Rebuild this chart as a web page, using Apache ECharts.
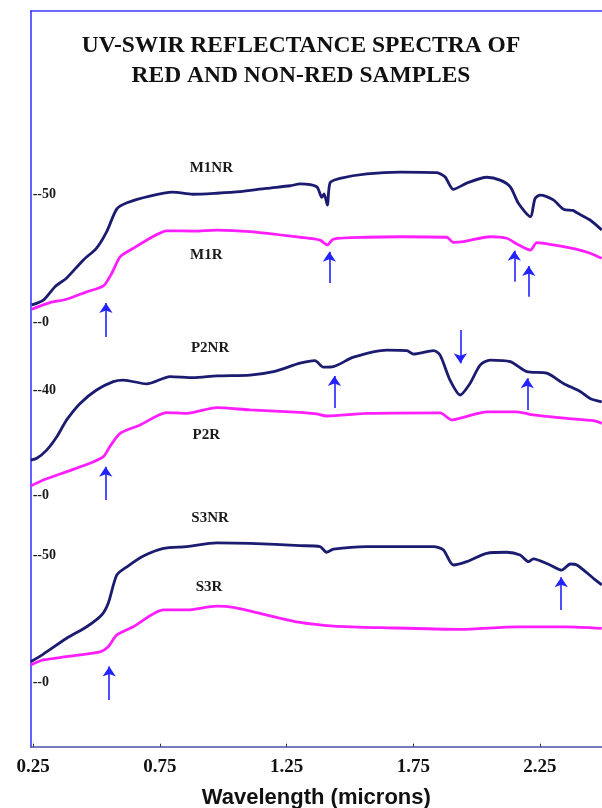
<!DOCTYPE html>
<html><head><meta charset="utf-8">
<script src="https://cdn.jsdelivr.net/npm/echarts@6/dist/echarts.min.js"></script>
<style>html,body{margin:0;padding:0;background:#fff}#c{width:602px;height:808px}</style>
</head><body><div id="c"></div>
<script>
// ---- data (wavelength in microns, reflectance %) ----
const xTicks = [0.25, 0.75, 1.25, 1.75, 2.25];
const M1NR = [[0.244,6.9],[0.29,8.8],[0.336,14.0],[0.382,17.4],[0.448,24.4],[0.50,29.0],[0.54,35.4],[0.58,44.2],[0.62,46.6],[0.71,49.2],[0.80,50.7],[0.88,49.9],[0.974,50.3],[1.066,50.9],[1.17,52.2],[1.264,53.2],[1.303,53.9],[1.369,52.8],[1.389,48.7],[1.398,50.0],[1.411,45.7],[1.422,54.4],[1.461,56.1],[1.567,57.8],[1.698,58.5],[1.843,58.3],[1.875,56.7],[1.908,51.8],[1.961,54.2],[2.04,56.5],[2.093,55.4],[2.133,52.8],[2.165,46.4],[2.212,41.2],[2.231,48.3],[2.251,49.6],[2.303,47.7],[2.343,44.1],[2.38,43.6],[2.396,42.7],[2.448,39.9],[2.494,36.0]];
const M1R = [[0.244,5.2],[0.316,7.8],[0.382,9.1],[0.461,12.0],[0.527,14.3],[0.56,19.2],[0.593,25.6],[0.645,28.9],[0.711,32.8],[0.777,35.7],[0.882,35.6],[0.974,36.0],[1.106,35.4],[1.303,33.2],[1.382,32.1],[1.411,30.2],[1.435,32.5],[1.567,33.2],[1.698,33.4],[1.882,33.2],[1.908,31.2],[1.948,31.5],[2.053,33.4],[2.119,32.8],[2.159,30.6],[2.212,28.2],[2.238,31.1],[2.303,30.2],[2.396,28.5],[2.448,27.0],[2.494,25.0]];
const P2NR = [[0.24,13.3],[0.264,14.0],[0.303,17.1],[0.343,22.2],[0.382,28.6],[0.435,34.9],[0.50,40.0],[0.566,43.2],[0.606,43.8],[0.698,42.3],[0.79,45.1],[0.882,44.7],[0.974,45.4],[1.106,45.7],[1.198,47.0],[1.303,50.2],[1.362,51.2],[1.395,48.7],[1.435,48.9],[1.514,52.5],[1.646,55.2],[1.725,55.0],[1.751,53.7],[1.83,55.0],[1.856,53.3],[1.895,43.8],[1.935,38.1],[1.974,42.5],[2.014,49.5],[2.053,51.4],[2.133,50.8],[2.198,47.0],[2.277,46.4],[2.343,42.5],[2.409,39.4],[2.448,36.8],[2.494,35.5]];
const P2R = [[0.24,3.4],[0.29,5.7],[0.382,8.9],[0.474,12.1],[0.527,14.6],[0.552,18.4],[0.593,23.5],[0.672,26.7],[0.777,31.4],[0.856,31.1],[0.974,33.3],[1.106,32.4],[1.303,31.5],[1.369,30.9],[1.408,30.1],[1.567,31.1],[1.856,31.3],[1.902,28.6],[1.948,29.6],[2.04,31.7],[2.159,31.7],[2.224,30.5],[2.356,29.2],[2.461,28.3],[2.494,27.3]];
const S3NR = [[0.24,8.2],[0.29,11.2],[0.382,17.4],[0.461,21.9],[0.52,26.5],[0.546,31.1],[0.58,42.2],[0.62,45.4],[0.685,49.6],[0.764,52.6],[0.856,53.3],[0.974,54.8],[1.106,54.6],[1.303,53.7],[1.382,53.3],[1.408,51.1],[1.435,52.3],[1.567,53.3],[1.83,53.3],[1.869,52.0],[1.908,46.1],[1.961,47.4],[2.04,50.7],[2.119,51.1],[2.172,50.0],[2.205,47.4],[2.224,48.5],[2.29,46.1],[2.336,44.1],[2.37,46.5],[2.396,46.1],[2.461,40.9],[2.494,38.3]];
const S3R = [[0.24,6.9],[0.29,8.9],[0.382,10.2],[0.514,12.1],[0.546,14.1],[0.58,18.7],[0.645,21.9],[0.764,28.5],[0.856,28.5],[0.974,30.0],[1.04,29.5],[1.172,26.5],[1.303,23.6],[1.435,22.2],[1.646,21.5],[1.935,20.9],[2.159,21.9],[2.356,21.9],[2.494,21.3]];
// arrows: [wavelength, tail value, head value]
const arrows1 = [[0.537,-5.6,7.7],[1.419,15.4,27.6],[2.149,15.9,28.0],[2.206,10.1,22.0]];
const arrows2 = [[0.536,-1.9,10.8],[1.439,33.1,45.3],[1.936,62.9,50.2],[2.20,32.4,44.5]];
const arrows3 = [[0.55,-6.8,6.3],[2.334,28.5,41.3]];
const yTicks1 = [0, 50], yTicks2 = [0, 40], yTicks3 = [0, 50];
const names1 = ['M1NR','M1R'], names2 = ['P2NR','P2R'], names3 = ['S3NR','S3R'];
const nameAt1 = [[0.953,60.1],[0.933,26.3]];
const nameAt2 = [[0.948,56.0],[0.933,22.9]];
const nameAt3 = [[0.948,64.5],[0.944,37.5]];

// ---- layout ----
const W = 602, H = 808;
const LEFT = 30.7, XMIN = 0.24, XMAX = 2.495;
const YMIN = -10, YMAX = 70;
const panelLayout = [ {zero: 322.7, ppu: 2.574}, {zero: 495, ppu: 2.625}, {zero: 682.7, ppu: 2.553} ];
const panels = [
  {nr: M1NR, r: M1R, ticks: yTicks1, names: names1, at: nameAt1, arrows: arrows1},
  {nr: P2NR, r: P2R, ticks: yTicks2, names: names2, at: nameAt2, arrows: arrows2},
  {nr: S3NR, r: S3R, ticks: yTicks3, names: names3, at: nameAt3, arrows: arrows3}
];
const NAVY = '#1b1b70', MAG = '#ff1eff', ARROW = '#2323ff', AXISBLUE = '#3a3aff';
const SERIF = '"Liberation Serif","Times New Roman",serif';

const grid = [{left: LEFT, right: 0, top: 11, bottom: H - 746.7, outerBoundsMode: 'none', containLabel: false}];
const xAxis = [
  {gridIndex: 0, type: 'value', min: XMIN, max: XMAX, position: 'bottom',
   axisLine: {lineStyle: {color: '#4b4fa6', width: 1.6}},
   axisTick: {show: true, inside: true, length: 3, lineStyle: {color: '#333'}, customValues: xTicks},
   axisLabel: {customValues: xTicks, formatter: v => v.toFixed(2), color: '#111', fontFamily: SERIF, fontWeight: 'bold', fontSize: 19, margin: 11},
   splitLine: {show: false},
   name: 'Wavelength (microns)', nameLocation: 'middle', nameGap: 40,
   nameTextStyle: {fontFamily: '"Liberation Sans",Arial,sans-serif', fontWeight: 'bold', fontSize: 22, color: '#111'}},
  {gridIndex: 0, type: 'value', min: XMIN, max: XMAX, position: 'top',
   axisLine: {lineStyle: {color: AXISBLUE, width: 1.6}}, axisTick: {show: false}, axisLabel: {show: false}, splitLine: {show: false}}
];
const yAxis = [
  {gridIndex: 0, type: 'value', min: 0, max: 1, position: 'left',
   axisLine: {show: true, lineStyle: {color: AXISBLUE, width: 1.6}}, axisTick: {show: false}, axisLabel: {show: false}, splitLine: {show: false}}
];
const series = [];
panels.forEach((p, i) => {
  const L = panelLayout[i];
  const gi = i + 1;
  grid.push({left: LEFT, right: 0, top: L.zero - YMAX * L.ppu, bottom: H - (L.zero - YMIN * L.ppu), outerBoundsMode: 'none', containLabel: false});
  xAxis.push({gridIndex: gi, type: 'value', min: XMIN, max: XMAX, show: false});
  yAxis.push({gridIndex: gi, type: 'value', min: YMIN, max: YMAX,
    axisLine: {show: false}, axisTick: {show: false}, splitLine: {show: false},
    axisLabel: {customValues: p.ticks, inside: true, margin: 2, formatter: v => '--' + v,
      color: '#1a1a1a', fontFamily: SERIF, fontWeight: 'bold', fontSize: 14}});
  const common = {type: 'line', xAxisIndex: gi + 1, yAxisIndex: gi, showSymbol: false, smooth: 0.25, clip: false, silent: true};
  const lbl = (name, c) => ({coord: c, name: name, value: name});
  const nameLabel = {show: true, position: 'inside', formatter: '{b}', color: '#1a1a1a', fontFamily: SERIF, fontWeight: 'bold', fontSize: 15};
  series.push(Object.assign({}, common, {
    name: p.names[0], data: p.nr, lineStyle: {color: NAVY, width: 2.8}, itemStyle: {color: NAVY},
    markPoint: {symbol: 'circle', symbolSize: 1, itemStyle: {color: 'rgba(0,0,0,0)'}, label: nameLabel, data: [lbl(p.names[0], p.at[0])]},
    markLine: {silent: true, symbol: ['none', 'arrow'], symbolSize: 10, label: {show: false},
      lineStyle: {color: ARROW, width: 1.6, type: 'solid'},
      data: p.arrows.map(a => [{coord: [a[0], a[1]]}, {coord: [a[0], a[2]]}])}
  }));
  series.push(Object.assign({}, common, {
    name: p.names[1], data: p.r, lineStyle: {color: MAG, width: 2.8}, itemStyle: {color: MAG},
    markPoint: {symbol: 'circle', symbolSize: 1, itemStyle: {color: 'rgba(0,0,0,0)'}, label: nameLabel, data: [lbl(p.names[1], p.at[1])]}
  }));
});
const chart = echarts.init(document.getElementById('c'), null, {renderer: 'canvas'});
chart.setOption({
  animation: false,
  backgroundColor: '#fff',
  title: {text: 'UV-SWIR REFLECTANCE SPECTRA OF\nRED AND NON-RED SAMPLES', left: 'center', top: 26,
    textStyle: {fontFamily: SERIF, fontWeight: 'bold', fontSize: 23.5, lineHeight: 30, color: '#111'}},
  grid: grid, xAxis: xAxis, yAxis: yAxis, series: series
});
</script></body></html>
